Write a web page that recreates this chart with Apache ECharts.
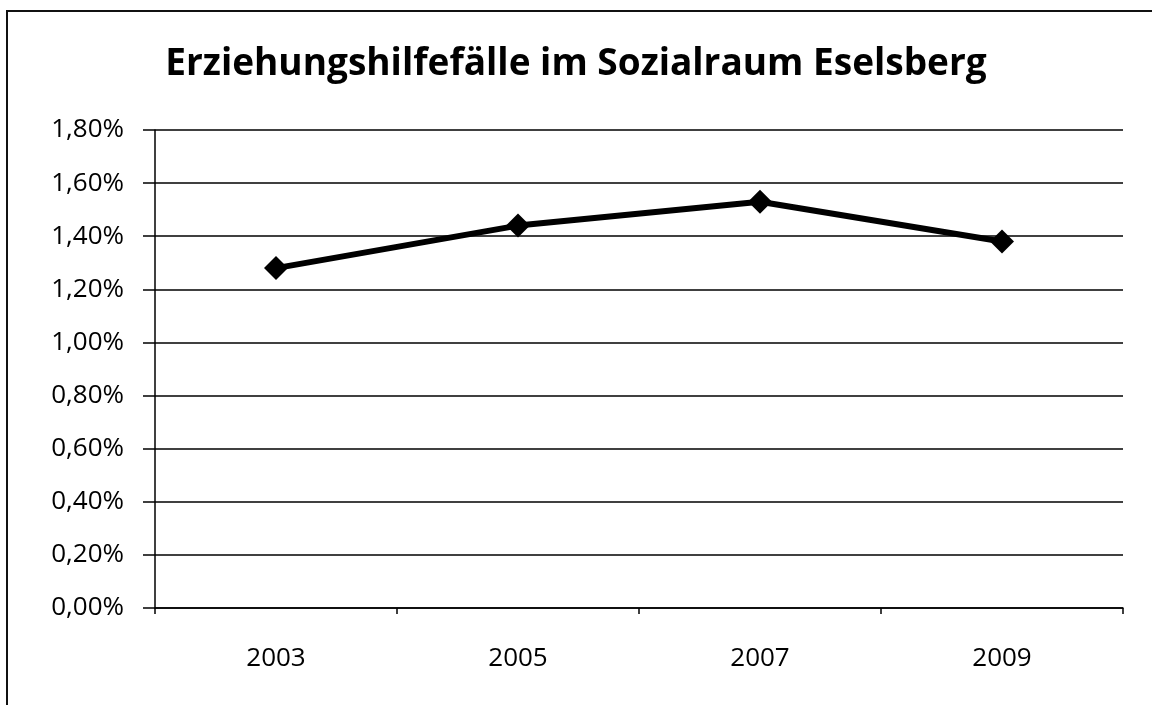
<!DOCTYPE html>
<html>
<head>
<meta charset="utf-8">
<script src="https://cdn.jsdelivr.net/npm/echarts@6/dist/echarts.min.js"></script>
<style>
  html, body { margin: 0; padding: 0; background: #fff; overflow: hidden; }
  #frame { position: absolute; left: 6px; top: 10px; width: 1170px; height: 720px; border: 2px solid #111; box-sizing: border-box; }
  #chart { position: absolute; left: 0; top: 0; width: 1152px; height: 705px; }
</style>
</head>
<body>
<div id="frame"></div>
<div id="chart"></div>
<script>
// Anteil der Erziehungshilfefälle je Erhebungsjahr (in Prozent)
const years = ['2003', '2005', '2007', '2009'];
const shares = [1.28, 1.44, 1.53, 1.38];
const titleText = 'Erziehungshilfefälle im Sozialraum Eselsberg';

const fmtPct = v => v.toFixed(2).replace('.', ',') + '%';

const chart = echarts.init(document.getElementById('chart'), null, { renderer: 'canvas' });
chart.setOption({
  backgroundColor: 'transparent',
  animation: false,
  title: {
    text: titleText,
    left: 'center',
    top: 41,
    textStyle: { fontFamily: 'Open Sans', fontWeight: 'bold', fontSize: 37, color: '#000' }
  },
  grid: { left: 155, right: 29, top: 130, bottom: 97, containLabel: false },
  xAxis: {
    type: 'category',
    data: years,
    boundaryGap: true,
    axisLine: { show: true, lineStyle: { color: '#000', width: 1.5 } },
    axisTick: { show: true, length: 6, lineStyle: { color: '#000', width: 1.5 } },
    axisLabel: { fontFamily: 'Open Sans', fontSize: 26, color: '#000', margin: 38 }
  },
  yAxis: {
    type: 'value',
    min: 0,
    max: 1.8,
    interval: 0.2,
    axisLine: { show: true, lineStyle: { color: '#000', width: 1.5 } },
    axisTick: { show: true, length: 12, lineStyle: { color: '#000', width: 1.5 } },
    axisLabel: { fontFamily: 'Open Sans', fontSize: 26, color: '#000', margin: 31, formatter: fmtPct },
    splitLine: { show: true, lineStyle: { color: '#000', width: 1.5 } }
  },
  series: [{
    type: 'line',
    data: shares,
    symbol: 'diamond',
    symbolSize: 24,
    lineStyle: { color: '#000', width: 6 },
    itemStyle: { color: '#000' }
  }]
});
</script>
</body>
</html>
